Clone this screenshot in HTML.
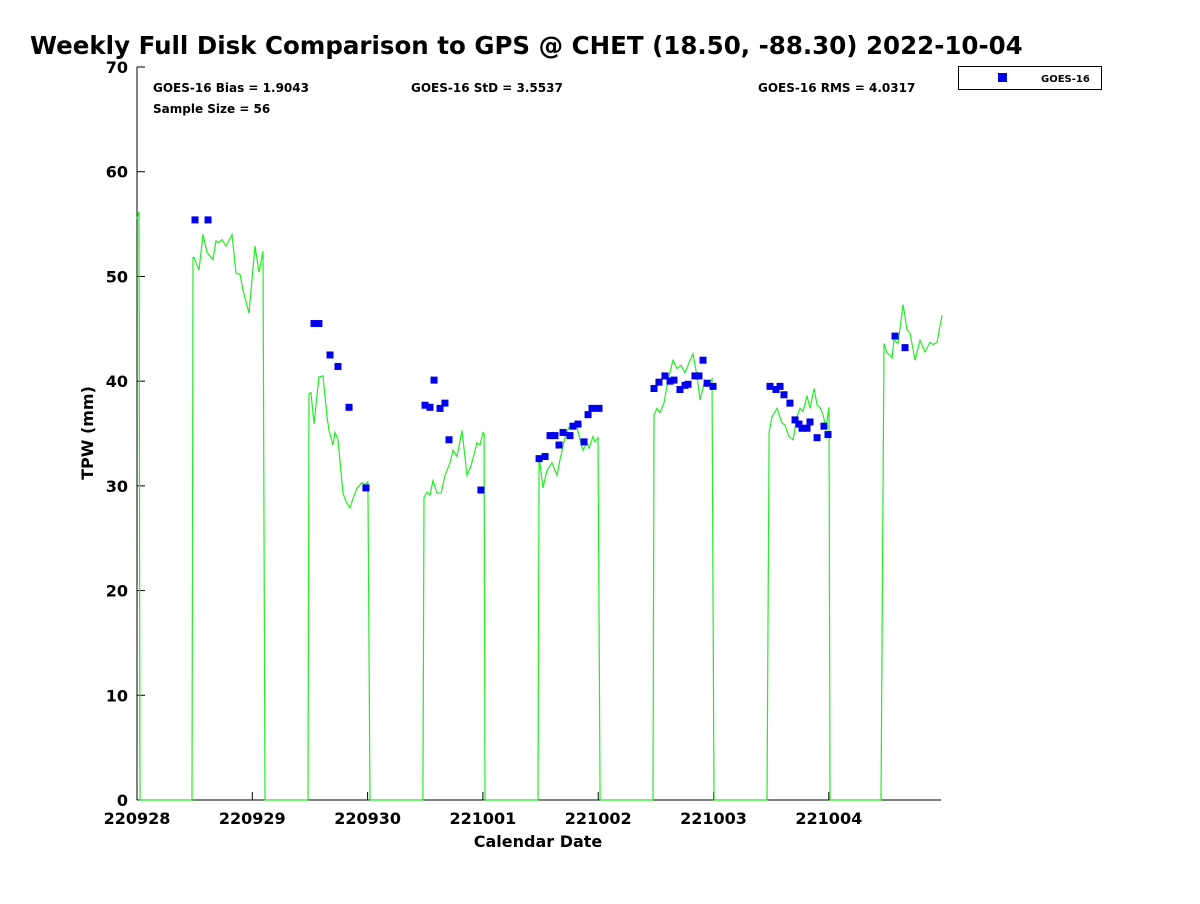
<!DOCTYPE html>
<html><head><meta charset="utf-8"><style>
body{margin:0;background:#fff;width:1200px;height:900px;overflow:hidden;font-family:"DejaVu Sans","Liberation Sans",sans-serif}
svg text{font-family:"DejaVu Sans","Liberation Sans",sans-serif;font-weight:bold}
</style></head><body>
<svg id="chart" width="1200" height="900" xmlns="http://www.w3.org/2000/svg">
<text x="30" y="54" font-size="24.5">Weekly Full Disk Comparison to GPS @ CHET (18.50, -88.30) 2022-10-04</text>
<text x="153" y="92" font-size="12">GOES-16 Bias = 1.9043</text>
<text x="411" y="92" font-size="12">GOES-16 StD = 3.5537</text>
<text x="758" y="92" font-size="12">GOES-16 RMS = 4.0317</text>
<text x="153" y="113" font-size="12">Sample Size = 56</text>
<g>
<rect x="958.5" y="66.5" width="143" height="23" fill="#fff" stroke="#000"/>
<rect x="998" y="73" width="9" height="9" fill="#0000ee"/>
<text x="1041" y="82" font-size="10">GOES-16</text>
</g>
<text x="538" y="847" font-size="16" text-anchor="middle">Calendar Date</text>
<text x="0" y="0" font-size="16" text-anchor="middle" transform="translate(93,433) rotate(-90)">TPW (mm)</text>
<g id="axes"></g>
<g id="line"></g>
<g id="pts"></g>
</svg>
<script>
const xTickLabels=["220928","220929","220930","221001","221002","221003","221004"];
const yTicks=[0,10,20,30,40,50,60,70];
const lineDays=[0,0.017,0.026,0.477,0.486,0.494,0.538,0.572,0.607,0.659,0.685,0.703,0.737,0.772,0.824,0.859,0.893,0.919,0.971,1.023,1.058,1.093,1.110,
1.483,1.492,1.509,1.535,1.578,1.613,1.648,1.665,1.700,1.717,1.743,1.787,1.813,1.847,1.873,1.908,1.951,1.977,2.003,2.021,
2.480,2.489,2.515,2.541,2.567,2.602,2.637,2.671,2.715,2.741,2.775,2.819,2.862,2.897,2.949,2.975,3.001,3.010,3.018,
3.478,3.487,3.521,3.556,3.599,3.643,3.669,3.712,3.747,3.790,3.816,3.842,3.868,3.903,3.920,3.955,3.972,3.998,4.016,
4.475,4.484,4.510,4.536,4.571,4.605,4.649,4.683,4.718,4.753,4.779,4.822,4.857,4.883,4.926,4.961,4.987,5.004,
5.464,5.482,5.507,5.551,5.594,5.620,5.655,5.690,5.724,5.750,5.776,5.811,5.837,5.872,5.898,5.924,5.950,5.976,6.002,6.010,
6.453,6.479,6.505,6.531,6.548,6.565,6.600,6.644,6.678,6.704,6.748,6.791,6.834,6.878,6.904,6.938,6.982];
const lineTPW=[55.5,56.2,0,0,51.8,51.8,50.6,54.0,52.3,51.6,53.4,53.2,53.5,52.9,54.0,50.3,50.2,48.7,46.5,52.9,50.4,52.4,0,
0,38.8,38.9,35.9,40.4,40.5,36.6,35.3,33.9,35.1,34.4,29.3,28.5,27.9,28.8,29.8,30.3,30.1,30.4,0,
0,28.9,29.4,29.1,30.5,29.3,29.3,31.0,32.2,33.4,32.8,35.3,31.0,31.9,34.1,33.9,35.1,35.0,0,
0,32.8,29.8,31.5,32.2,31.0,32.5,34.6,35.6,35.5,35.6,34.4,33.4,34.1,33.6,34.7,34.2,34.6,0,
0,36.8,37.4,37.0,37.9,40.1,42.0,41.2,41.5,40.8,41.5,42.6,40.5,38.2,40.1,39.8,40.2,0,
0,35.1,36.6,37.4,36.0,35.8,34.7,34.4,36.6,37.4,37.1,38.6,37.4,39.3,37.7,37.5,36.8,35.6,37.5,0,
0,43.6,42.7,42.5,42.2,43.9,43.6,47.3,44.9,44.6,42.0,43.9,42.8,43.7,43.5,43.7,46.3];
const goesDays=[0.503,0.616,1.535,1.578,1.674,1.743,1.839,1.986,2.498,2.541,2.576,2.628,2.671,2.706,2.983,
3.487,3.539,3.582,3.625,3.660,3.695,3.755,3.781,3.825,3.877,3.912,3.946,4.007,
4.484,4.527,4.579,4.623,4.657,4.709,4.753,4.779,4.839,4.874,4.909,4.944,4.996,
5.490,5.542,5.577,5.611,5.663,5.707,5.741,5.768,5.811,5.837,5.898,5.958,5.993,6.574,6.661];
const goesTPW=[55.4,55.4,45.5,45.5,42.5,41.4,37.5,29.8,37.7,37.5,40.1,37.4,37.9,34.4,29.6,
32.6,32.8,34.8,34.8,33.9,35.1,34.8,35.7,35.9,34.2,36.8,37.4,37.4,
39.3,39.9,40.5,40.0,40.1,39.2,39.6,39.7,40.5,40.5,42.0,39.8,39.5,
39.5,39.2,39.5,38.7,37.9,36.3,35.9,35.5,35.5,36.1,34.6,35.7,34.9,44.3,43.2];
const NS="http://www.w3.org/2000/svg";
const X0=137,X1=941,Y0=800,Y1=67,XMAX=6.973,YMAX=70;
const sx=d=>X0+d/XMAX*(X1-X0);
const sy=v=>Y0-v/YMAX*(Y0-Y1);
function mk(tag,attrs,parent){const e=document.createElementNS(NS,tag);for(const k in attrs)e.setAttribute(k,attrs[k]);parent.appendChild(e);return e;}
const axes=document.getElementById('axes');
const yAxis=mk('line',{x1:X0,y1:Y0,x2:X0,y2:Y1,stroke:'#000','stroke-width':1},axes);


const xAxis=mk('line',{x1:X0,y1:Y0,x2:X1,y2:Y0,stroke:'#000','stroke-width':1},axes);


yTicks.forEach(v=>{
  mk('line',{x1:X0,y1:sy(v),x2:X0+8,y2:sy(v),stroke:'#000'},axes);
  const t=mk('text',{x:X0-9,y:sy(v)+6,'font-size':16,'text-anchor':'end'},axes);
  t.textContent=v;
  
  
});
xTickLabels.forEach((l,i)=>{
  mk('line',{x1:sx(i),y1:Y0,x2:sx(i),y2:Y0-8,stroke:'#000'},axes);
  const t=mk('text',{x:sx(i),y:Y0+24,'font-size':16,'text-anchor':'middle'},axes);
  t.textContent=l;
  
  
});
const pts=lineDays.map((d,i)=>sx(d).toFixed(1)+','+sy(lineTPW[i]).toFixed(1)).join(' ');
const pl=mk('polyline',{points:pts,fill:'none',stroke:'#22ee22','stroke-width':1.2},document.getElementById('line'));


const pg=document.getElementById('pts');
goesDays.forEach((d,i)=>{
  const r=mk('rect',{x:sx(d)-3.5,y:sy(goesTPW[i])-3.5,width:7,height:7,fill:'#0000ee'},pg);
  
  
});
</script>
</body></html>
